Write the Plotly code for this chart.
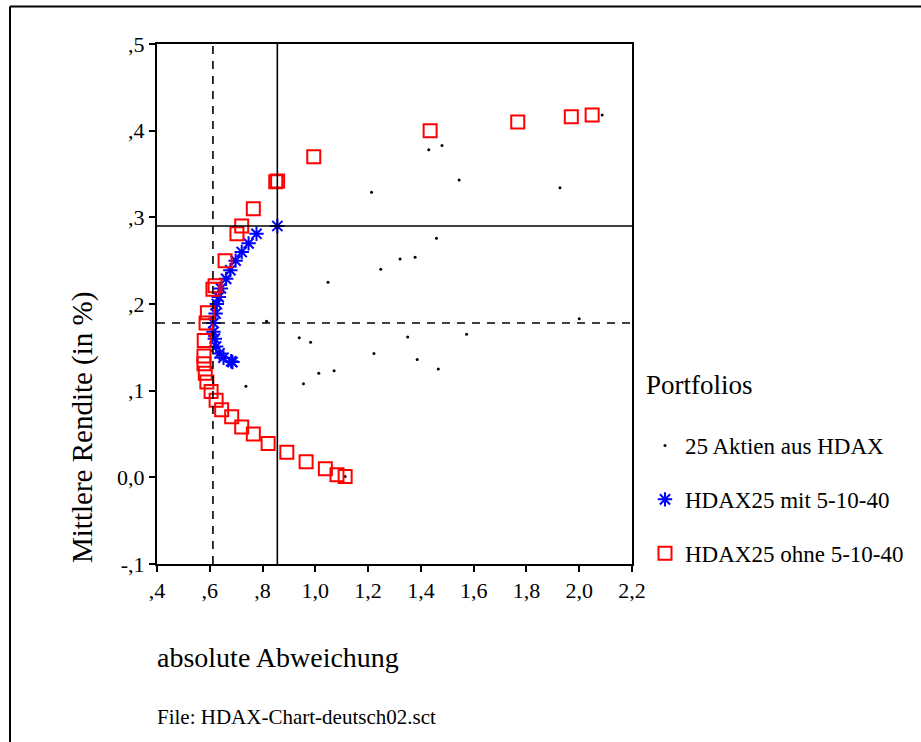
import plotly.graph_objects as go

# Portfolios: 25 single stocks from the HDAX
aktien_x = [1.213, 1.430, 1.480, 1.545, 1.927, 2.087, 1.459, 1.321, 1.378, 1.248,
            1.048, 0.815, 0.939, 0.982, 1.222, 1.071, 1.013, 0.955, 0.737, 2.000,
            1.350, 1.573, 1.386, 1.466, 1.113]
aktien_y = [0.329, 0.378, 0.383, 0.343, 0.334, 0.418, 0.276, 0.252, 0.254, 0.240,
            0.225, 0.180, 0.161, 0.156, 0.143, 0.123, 0.120, 0.108, 0.105, 0.183,
            0.162, 0.165, 0.136, 0.125, 0.001]

# Efficient portfolios with the 5-10-40 constraint
mit_x = [0.856, 0.777, 0.747, 0.721, 0.698, 0.678, 0.662, 0.642, 0.634, 0.627,
         0.622, 0.614, 0.614, 0.619, 0.624, 0.637, 0.652, 0.681, 0.686]
mit_y = [0.290, 0.281, 0.270, 0.260, 0.250, 0.239, 0.229, 0.218, 0.208, 0.200,
         0.189, 0.178, 0.168, 0.160, 0.151, 0.143, 0.138, 0.134, 0.133]

# Efficient portfolios without the constraint
ohne_x = [2.049, 1.970, 1.767, 1.435, 0.994, 0.857, 0.850, 0.765, 0.721, 0.703,
          0.658, 0.620, 0.612, 0.591, 0.586, 0.579, 0.578, 0.578, 0.583, 0.589,
          0.605, 0.624, 0.645, 0.683, 0.721, 0.765, 0.821, 0.892, 0.965, 1.038,
          1.082, 1.113]
ohne_y = [0.418, 0.416, 0.410, 0.400, 0.370, 0.342, 0.341, 0.310, 0.290, 0.281,
          0.250, 0.221, 0.217, 0.190, 0.178, 0.158, 0.140, 0.131, 0.120, 0.110,
          0.099, 0.089, 0.078, 0.070, 0.058, 0.050, 0.039, 0.029, 0.018, 0.010,
          0.003, 0.001]

# Reference lines (x = deviation, y = return)
ref_solid = (0.856, 0.290)
ref_dashed = (0.612, 0.178)

x_ticks = [0.4, 0.6, 0.8, 1.0, 1.2, 1.4, 1.6, 1.8, 2.0, 2.2]
x_tick_text = [",4", ",6", ",8", "1,0", "1,2", "1,4", "1,6", "1,8", "2,0", "2,2"]
y_ticks = [-0.1, 0.0, 0.1, 0.2, 0.3, 0.4, 0.5]
y_tick_text = ["-,1", "0,0", ",1", ",2", ",3", ",4", ",5"]

FONT = "Liberation Serif"

fig = go.Figure()

fig.add_trace(go.Scatter(
    x=aktien_x, y=aktien_y, mode="markers", name="25 Aktien aus HDAX",
    legendgroup="a",
    marker=dict(symbol="circle", size=3, color="black"),
))
fig.add_trace(go.Scatter(
    x=mit_x, y=mit_y, mode="markers", name="HDAX25 mit 5-10-40",
    legendgroup="b",
    marker=dict(symbol="asterisk-open", size=12, color="#0000ff",
                line=dict(color="#0000ff", width=2)),
))
fig.add_trace(go.Scatter(
    x=ohne_x, y=ohne_y, mode="markers", name="HDAX25 ohne 5-10-40",
    legendgroup="c",
    marker=dict(symbol="square-open", size=13, color="#ff0000",
                line=dict(color="#ff0000", width=2)),
))

# Reference lines through the plot area
shapes = [
    dict(type="line", xref="x", yref="paper", x0=ref_solid[0], x1=ref_solid[0],
         y0=0, y1=1, line=dict(color="black", width=1.6)),
    dict(type="line", xref="paper", yref="y", x0=0, x1=1,
         y0=ref_solid[1], y1=ref_solid[1], line=dict(color="black", width=1.6)),
    dict(type="line", xref="x", yref="paper", x0=ref_dashed[0], x1=ref_dashed[0],
         y0=0, y1=1, line=dict(color="black", width=1.6, dash="8px,7px")),
    dict(type="line", xref="paper", yref="y", x0=0, x1=1,
         y0=ref_dashed[1], y1=ref_dashed[1], line=dict(color="black", width=1.6, dash="8px,7px")),
]

# Page frame (top and left edges)
L, R, T, B = 157, 289, 44, 178
PW, PH = 921 - L - R, 742 - T - B


def px(xp):
    return (xp - L) / PW


def py(yp):
    return (742 - B - yp) / PH


shapes += [
    dict(type="line", xref="paper", yref="paper", x0=px(10), x1=px(921),
         y0=py(6.5), y1=py(6.5), line=dict(color="black", width=2)),
    dict(type="line", xref="paper", yref="paper", x0=px(10), x1=px(10),
         y0=py(6.5), y1=py(742), line=dict(color="black", width=2)),
]

annotations = [
    dict(text="Mittlere Rendite (in %)", xref="paper", yref="paper",
         x=px(82), y=py(428), xanchor="center", yanchor="middle",
         textangle=-90, showarrow=False, font=dict(family=FONT, size=29, color="black")),
    dict(text="absolute Abweichung", xref="paper", yref="paper",
         x=px(155), y=py(657), xanchor="left", yanchor="middle",
         showarrow=False, font=dict(family=FONT, size=28, color="black")),
    dict(text="File: HDAX-Chart-deutsch02.sct", xref="paper", yref="paper",
         x=px(155), y=py(717), xanchor="left", yanchor="middle",
         showarrow=False, font=dict(family=FONT, size=21, color="black")),
    dict(text="Portfolios", xref="paper", yref="paper",
         x=px(644), y=py(385), xanchor="left", yanchor="middle",
         showarrow=False, font=dict(family=FONT, size=27, color="black")),
]

axis_common = dict(
    showline=True, linecolor="black", linewidth=2, mirror=True,
    ticks="outside", ticklen=6, tickwidth=2, tickcolor="black",
    showgrid=False, zeroline=False,
    tickfont=dict(family=FONT, size=22, color="black"),
)

fig.update_layout(
    width=921, height=742,
    margin=dict(l=L, r=R, t=T, b=B),
    paper_bgcolor="white", plot_bgcolor="white",
    font=dict(family=FONT, color="black"),
    xaxis=dict(range=[0.4, 2.2], tickvals=x_ticks, ticktext=x_tick_text, **axis_common),
    yaxis=dict(range=[-0.1, 0.5], tickvals=y_ticks, ticktext=y_tick_text, **axis_common),
    showlegend=True,
    legend=dict(
        x=px(645), y=py(424), xanchor="left", yanchor="top",
        font=dict(family=FONT, size=23, color="black"),
        tracegroupgap=21, bgcolor="rgba(0,0,0,0)",
    ),
    shapes=shapes,
    annotations=annotations,
)

fig.write_html("out.html")
